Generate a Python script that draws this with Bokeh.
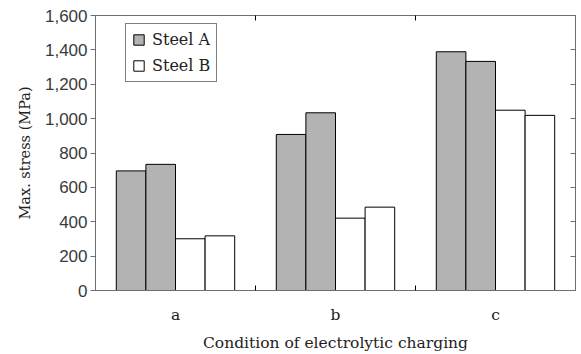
from bokeh.plotting import figure
from bokeh.models import (Range1d, FixedTicker, LinearAxis, NumeralTickFormatter,
                          Legend, LegendItem, ColumnDataSource)
from bokeh.embed import file_html
from bokeh.resources import INLINE

categories = ["a", "b", "c"]
steel_a_1 = [696, 908, 1389]
steel_a_2 = [734, 1034, 1333]
steel_b_1 = [301, 421, 1049]
steel_b_2 = [318, 485, 1019]
y_ticks = [0, 200, 400, 600, 800, 1000, 1200, 1400, 1600]

GRAY = "#b3b3b3"
AXC = "#6e6e6e"
SERIF = "DejaVu Serif"
SANS = "Liberation Sans"

n = len(categories)
centers = [i + 0.5 for i in range(n)]
separators = [float(i) for i in range(1, n)]
bw = 0.185
offsets = [-1.5 * bw, -0.5 * bw, 0.5 * bw, 1.5 * bw]

p = figure(width=581, height=354, output_backend="svg", toolbar_location=None,
           x_range=Range1d(0, n), y_range=Range1d(0, 1600),
           min_border_left=95, min_border_right=6, min_border_top=15,
           min_border_bottom=54, x_axis_type=None, y_axis_type=None)
p.grid.visible = False
p.outline_line_color = AXC
p.outline_line_width = 1
p.background_fill_color = "white"
p.border_fill_color = "white"

series = [(steel_a_1, GRAY), (steel_a_2, GRAY), (steel_b_1, "white"), (steel_b_2, "white")]
rends = []
for (vals, col), off in zip(series, offsets):
    src = ColumnDataSource(dict(x=[c + off for c in centers], top=vals))
    r = p.vbar(x="x", top="top", width=bw, bottom=0, source=src,
               fill_color=col, line_color="black", line_width=1)
    rends.append(r)

# bottom x axis: labels at category centers, tick marks at separators
xb = LinearAxis(ticker=FixedTicker(ticks=centers, minor_ticks=separators))
xb.major_tick_line_color = None
xb.minor_tick_in = 5
xb.minor_tick_out = 0
xb.minor_tick_line_color = "black"
xb.axis_line_color = AXC
xb.major_label_overrides = {c: lab for c, lab in zip(centers, categories)}
xb.major_label_text_font = SERIF
xb.major_label_text_font_size = "15.5px"
xb.major_label_text_color = "#222222"
xb.major_label_standoff = 9
xb.axis_label = "Condition of electrolytic charging"
xb.axis_label_text_font = SERIF
xb.axis_label_text_font_size = "15.5px"
xb.axis_label_text_font_style = "normal"
xb.axis_label_text_color = "#222222"
xb.axis_label_standoff = 7
p.add_layout(xb, "below")

# top axis: only separator ticks
xa = LinearAxis(ticker=FixedTicker(ticks=[], minor_ticks=separators))
xa.major_tick_line_color = None
xa.minor_tick_in = 5
xa.minor_tick_out = 0
xa.minor_tick_line_color = "black"
xa.axis_line_color = AXC
p.add_layout(xa, "above")

# left y axis
ay = LinearAxis(ticker=FixedTicker(ticks=y_ticks, minor_ticks=[]),
                formatter=NumeralTickFormatter(format="0,0"))
ay.major_tick_in = 0
ay.major_tick_out = 5
ay.major_tick_line_color = AXC
ay.axis_line_color = AXC
ay.major_label_text_font = SANS
ay.major_label_text_font_size = "17px"
ay.major_label_text_color = "#3a3a3a"
ay.major_label_standoff = 3
ay.axis_label = "Max. stress (MPa)"
ay.axis_label_text_font = SERIF
ay.axis_label_text_font_size = "14.5px"
ay.axis_label_text_font_style = "normal"
ay.axis_label_text_color = "#222222"
ay.axis_label_standoff = 9
p.add_layout(ay, "left")

# right y axis: inward ticks only
ar = LinearAxis(ticker=FixedTicker(ticks=[], minor_ticks=y_ticks))
ar.major_tick_line_color = None
ar.minor_tick_in = 5
ar.minor_tick_out = 0
ar.minor_tick_line_color = AXC
ar.axis_line_color = AXC
p.add_layout(ar, "right")

legend = Legend(items=[LegendItem(label="Steel A", renderers=[rends[0]]),
                       LegendItem(label="Steel B", renderers=[rends[2]])],
                location=(30, 208))
legend.border_line_color = "black"
legend.border_line_width = 1
legend.label_text_font = SERIF
legend.label_text_font_size = "16px"
legend.label_text_color = "#222222"
legend.glyph_width = 13
legend.glyph_height = 13
legend.spacing = 7
legend.padding = 6
legend.margin = 0
legend.label_standoff = 7
p.add_layout(legend, "center")

open("out.html", "w").write(file_html(p, INLINE))
